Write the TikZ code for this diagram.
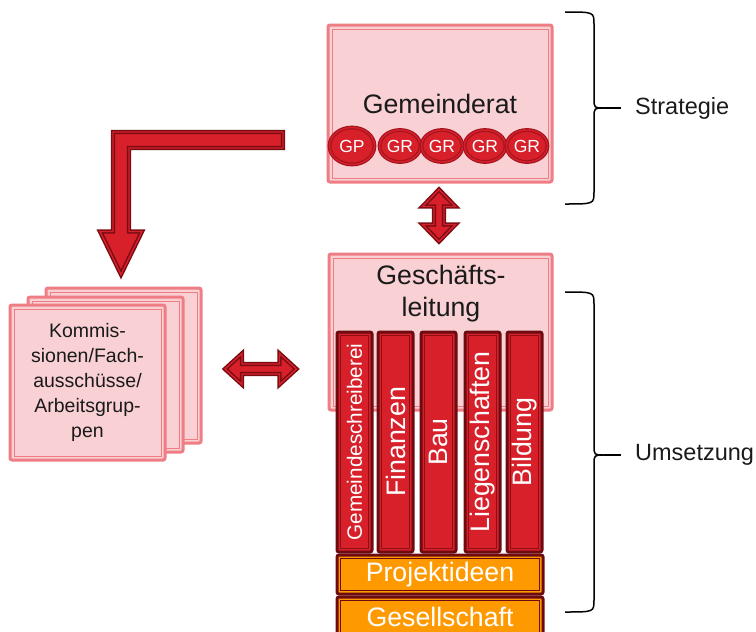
\documentclass[tikz,border=0pt]{standalone}
\usepackage{fontspec}
\setmainfont{Liberation Sans}
\usetikzlibrary{calc,shapes.geometric}
\definecolor{pinkfill}{HTML}{F9D0D3}
\definecolor{salmon}{HTML}{EE7E84}
\definecolor{maroon}{HTML}{6E0B10}
\definecolor{barred}{HTML}{D8202B}
\definecolor{innerred}{HTML}{8E1017}
\definecolor{ringred}{HTML}{A3141E}
\definecolor{orangefill}{HTML}{FF9900}
\definecolor{arrowdark}{HTML}{7A0D13}
\definecolor{txtblack}{HTML}{1A1A1A}
\begin{document}
\begin{tikzpicture}[x=1pt,y=-1pt,
  pinkbox/.style={draw=salmon, fill=pinkfill, line width=3pt, rounded corners=2pt, inner sep=0pt,
    text=txtblack,
    path picture={\draw[salmon, line width=0.8pt, sharp corners] ([shift={(4pt,-4pt)}]path picture bounding box.north west) rectangle ([shift={(-4pt,4pt)}]path picture bounding box.south east);}},
  barbox/.style={draw=maroon, fill=barred, line width=3pt, rounded corners=2pt, inner sep=0pt,
    minimum width=35pt, minimum height=220pt,
    path picture={\draw[innerred, line width=0.8pt, sharp corners] ([shift={(3.5pt,-3.5pt)}]path picture bounding box.north west) rectangle ([shift={(-3.5pt,3.5pt)}]path picture bounding box.south east);}},
  orangebox/.style={draw=maroon, fill=orangefill, line width=3pt, rounded corners=2pt, inner sep=0pt,
    minimum width=206pt, minimum height=39pt, text=white, font=\fontsize{26.7}{32}\selectfont,
    path picture={\draw[maroon, line width=0.9pt, sharp corners] ([shift={(3.5pt,-3.5pt)}]path picture bounding box.north west) rectangle ([shift={(-3.5pt,3.5pt)}]path picture bounding box.south east);}},
  member/.style={ellipse, fill=barred, draw=ringred, line width=1.2pt, double=barred, double distance=1.4pt,
    inner sep=0pt, text=white, font=\fontsize{17.5}{20}\selectfont},
  bartext/.style={rotate=90, text=white, inner sep=0pt, font=\fontsize{26.7}{32}\selectfont},
  bigtxt/.style={text=txtblack, inner sep=0pt, align=center, font=\fontsize{26.7}{32}\selectfont},
  sidelabel/.style={text=txtblack, inner sep=0pt, anchor=west, font=\fontsize{23.5}{28}\selectfont},
  blockarrow/.style={fill=barred, draw=arrowdark, line width=1.5pt, double=barred, double distance=1.4pt, line join=miter},
  bracestyle/.style={draw=black, line width=1.5pt}]
\useasboundingbox (0,0) rectangle (756,632);

% Gemeinderat
\node[pinkbox, minimum width=224pt, minimum height=157pt, font=\fontsize{26.7}{32}\selectfont] (gr) at (440,103.5) {Gemeinderat};
\node[member, minimum width=45pt, minimum height=37pt] (gp) at (352,146) {GP};
\node[member, minimum width=41pt, minimum height=32pt] (gr1) at (400,146) {GR};
\node[member, minimum width=41pt, minimum height=32pt] (gr2) at (442,146) {GR};
\node[member, minimum width=41pt, minimum height=32pt] (gr3) at (485,146) {GR};
\node[member, minimum width=41pt, minimum height=32pt] (gr4) at (527,146) {GR};

% Geschaeftsleitung
\node[pinkbox, minimum width=223pt, minimum height=156pt] (gl) at (440.5,332) {};
\node[bigtxt] (gltxt) at (441,294) {Geschäfts-\\leitung};

% bars
\node[barbox] (b1) at (354.5,442) {};
\node[barbox] (b2) at (395.5,442) {};
\node[barbox] (b3) at (438.5,442) {};
\node[barbox] (b4) at (482.5,442) {};
\node[barbox] (b5) at (524.5,442) {};
\node[bartext, font=\fontsize{20.7}{24}\selectfont] (t1) at (b1) {Gemeindeschreiberei};
\node[bartext] (t2) at (b2) {Finanzen};
\node[bartext] (t3) at (b3) {Bau};
\node[bartext] (t4) at (b4) {Liegenschaften};
\node[bartext] (t5) at (b5) {Bildung};

% orange boxes
\node[orangebox] (pi) at (440,574.5) {Projektideen};
\node[orangebox] (gs) at (440,616.5) {Gesellschaft};

% Kommissionen stack
\node[pinkbox, minimum width=155pt, minimum height=155pt] (k3) at (123.5,365.5) {};
\node[pinkbox, minimum width=155pt, minimum height=155pt] (k2) at (105.5,374.5) {};
\node[pinkbox, minimum width=155pt, minimum height=155pt, align=center,
      font=\fontsize{19.5}{25}\selectfont] (k1) at (87.5,382.5)
      {Kommis-\\sionen/Fach-\\ausschüsse/\\Arbeitsgrup-\\pen};

% vertical double arrow between Gemeinderat and Geschaeftsleitung
\coordinate (va1) at ($(gr.south)+(-1,6)$);
\coordinate (va2) at ($(gl.north)+(-1.5,-11)$);
\draw[blockarrow] (va1) -- ++(16.5,17) -- ++(-11.5,0) -- ($(va2)+(5,-17)$) -- ++(11.5,0)
  -- (va2) -- ++(-16.5,-17) -- ++(11.5,0) -- ($(va1)+(-5,17)$) -- ++(-11.5,0) -- cycle;

% horizontal double arrow between Kommissionen and Geschaeftsleitung
\coordinate (ha1) at ($(k3.east)+(22.5,3.5)$);
\coordinate (ha2) at ($(gl.west)+(-31,37)$);
\draw[blockarrow] (ha1) -- ++(17,-15.5) -- ++(0,10.5) -- ($(ha2)+(-17,-5)$) -- ++(0,-10.5)
  -- (ha2) -- ++(-17,15.5) -- ++(0,-10.5) -- ($(ha1)+(17,5)$) -- ++(0,10.5) -- cycle;

% L-shaped arrow down to Kommissionen
\coordinate (lstart) at (283,140);
\coordinate (ltip) at ($(k2.north)+(15.5,-21)$);
\draw[blockarrow] ($(lstart)+(0,-8)$) -| ($(ltip)+(-8,-43)$) -- ++(-13,0) -- (ltip)
  -- ++(21,-43) -- ++(-13,0) |- ($(lstart)+(0,8)$) -- cycle;

% braces
\coordinate (s1) at (565,12);
\coordinate (s2) at (565,204);
\coordinate (stip) at (621,108);
\draw[bracestyle] (s1) .. controls (594,12) .. (594,24) -- (594,98) .. controls (594,108) .. (604,108)
  .. controls (594,108) .. (594,118) -- (594,192) .. controls (594,204) .. (s2);
\draw[bracestyle] (604,108) -- (stip);
\node[sidelabel] (strat) at (635,108) {Strategie};

\coordinate (u1) at (565,292);
\coordinate (u2) at (565,612);
\coordinate (utip) at (621,455);
\draw[bracestyle] (u1) .. controls (594,292) .. (594,304) -- (594,445) .. controls (594,455) .. (604,455)
  .. controls (594,455) .. (594,465) -- (594,600) .. controls (594,612) .. (u2);
\draw[bracestyle] (604,455) -- (utip);
\node[sidelabel] (ums) at (635,455) {Umsetzung};
\end{tikzpicture}
\end{document}
